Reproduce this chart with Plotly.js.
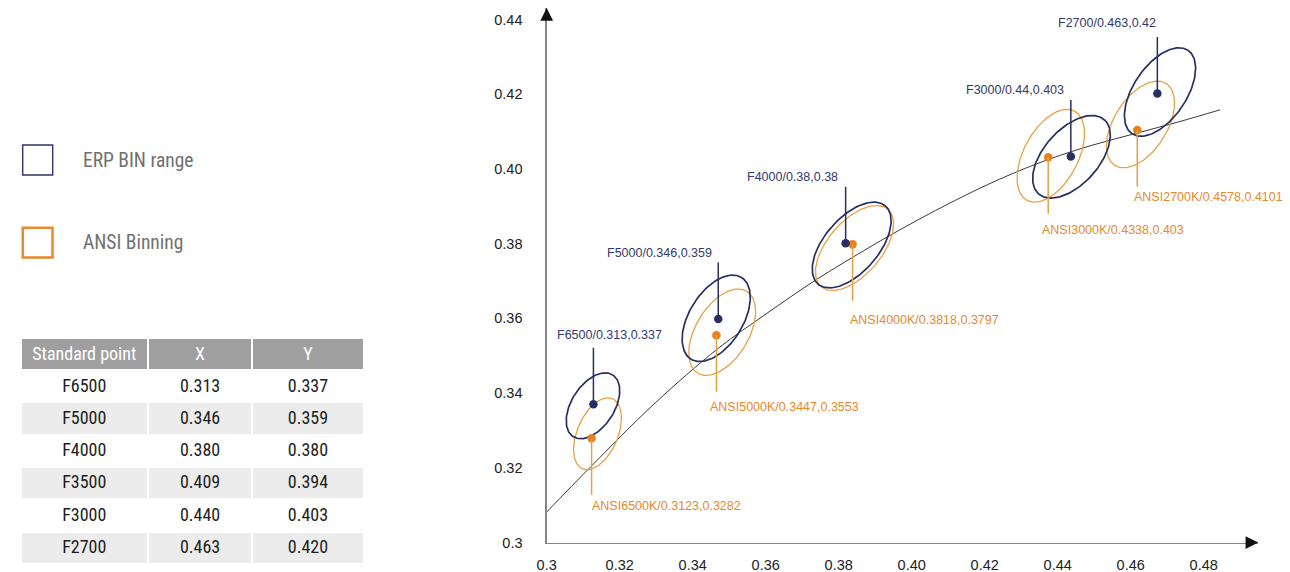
<!DOCTYPE html>
<html>
<head>
<meta charset="utf-8">
<script src="https://cdn.plot.ly/plotly-3.0.1.min.js"></script>
<style>html,body{margin:0;padding:0;background:#fff;}#chart{width:1290px;height:572px;}</style>
</head>
<body>
<div id="chart"></div>
<script>
// ---------------- DATA ----------------
// Tick labels
const xTickVals = [0.30, 0.32, 0.34, 0.36, 0.38, 0.40, 0.42, 0.44, 0.46, 0.48];
const xTickText = ['0.3', '0.32', '0.34', '0.36', '0.38', '0.40', '0.42', '0.44', '0.46', '0.48'];
const yTickVals = [0.30, 0.32, 0.34, 0.36, 0.38, 0.40, 0.42, 0.44];
const yTickText = ['0.3', '0.32', '0.34', '0.36', '0.38', '0.40', '0.42', '0.44'];

// Black-body (Planckian) locus
const locusX = [0.3000, 0.31186, 0.32940, 0.34701, 0.36008, 0.37351, 0.38419, 0.39496, 0.41049, 0.42419, 0.43742, 0.44967, 0.46181, 0.47351, 0.48447];
const locusY = [0.30816, 0.32008, 0.33707, 0.35198, 0.36116, 0.37013, 0.37655, 0.38271, 0.39087, 0.39730, 0.40252, 0.40640, 0.40961, 0.41269, 0.41582];

// ERP BIN range: labels, centre points (as drawn) and ellipses
const erpLabels = ['F6500/0.313,0.337', 'F5000/0.346,0.359', 'F4000/0.38,0.38', 'F3000/0.44,0.403', 'F2700/0.463,0.42'];
const erpDotX = [0.3128, 0.3470, 0.3819, 0.4436, 0.4673];
const erpDotY = [0.3370, 0.3598, 0.3801, 0.4033, 0.4202];
const erpEllCX = [0.31268, 0.34644, 0.38356, 0.44378, 0.46803];
const erpEllCY = [0.33659, 0.36001, 0.37963, 0.40324, 0.42058];
const erpEllA = [0.00988, 0.01294, 0.01395, 0.01340, 0.01354];
const erpEllB = [0.00582, 0.00731, 0.00734, 0.00745, 0.00720];
const erpEllAngle = [56, 57, 48, 47, 55];

// ANSI Binning: labels, centre points (as drawn) and ellipses
const ansiLabels = ['ANSI6500K/0.3123,0.3282', 'ANSI5000K/0.3447,0.3553', 'ANSI4000K/0.3818,0.3797', 'ANSI3000K/0.4338,0.403', 'ANSI2700K/0.4578,0.4101'];
const ansiDotX = [0.3123, 0.3465, 0.3838, 0.4374, 0.4618];
const ansiDotY = [0.3279, 0.3555, 0.3798, 0.4031, 0.4104];
const ansiEllCX = [0.31392, 0.34808, 0.38433, 0.43811, 0.46268];
const ansiEllCY = [0.32910, 0.35629, 0.37883, 0.40351, 0.41189];
const ansiEllA = [0.01024, 0.01286, 0.01381, 0.01359, 0.01302];
const ansiEllB = [0.00555, 0.00723, 0.00728, 0.00742, 0.00723];
const ansiEllAngle = [66, 58, 48, 61, 57];

// Standard point table
const tableHeader = ['Standard point', 'X', 'Y'];
const tableNames = ['F6500', 'F5000', 'F4000', 'F3500', 'F3000', 'F2700'];
const tableX = [0.313, 0.346, 0.380, 0.409, 0.440, 0.463];
const tableY = [0.337, 0.359, 0.380, 0.394, 0.403, 0.420];

// Legend
const legendNames = ['ERP BIN range', 'ANSI Binning'];

// ---------------- STYLE / LAYOUT ----------------
const W = 1290, H = 572;
const NAVY = '#27305f', NAVY_TXT = '#333a6b', ORANGE = '#e9a043', ORANGE_DOT = '#e5801c', ORANGE_TXT = '#e8892a';
const SANS = '"Liberation Sans", Arial, sans-serif';
const NARROW = '"Liberation Sans Narrow", "Arial Narrow", "Roboto Condensed", Roboto, sans-serif';
const px = v => v / W;
const py = v => 1 - v / H;

// plot area geometry (pixels)
const PL = 546.7, PR = 1258.3, PT = 8, PB = 542.5;
const XS = 3650, YS = 3736; // px per unit
const xMax = 0.3 + (PR - PL) / XS;
const yMax = 0.3 + (PB - PT) / YS;

// label placement (pixel offsets from the point)
const erpLabelAnchor = ['left', 'right', 'right', 'right', 'right'];
const erpLabelDx = [-38, -4, -6, -5, 1];
const erpLabelDy = [69, 66, 66, 67, 70];
const ansiLabelDx = [-2, -8, -5, -8, -5];
const ansiLabelDy = [-68, -72, -76, -73, -67];
const LEADER = 58;

function ellipse(cx, cy, a, b, angDeg) {
  const th = angDeg * Math.PI / 180, xs = [], ys = [];
  const n = 145;
  for (let i = 0; i < n; i++) {
    const t = 2 * Math.PI * i / (n - 1);
    xs.push(cx + a * Math.cos(t) * Math.cos(th) - b * Math.sin(t) * Math.sin(th));
    ys.push(cy + a * Math.cos(t) * Math.sin(th) + b * Math.sin(t) * Math.cos(th));
  }
  return {xs, ys};
}

const traces = [];
traces.push({type: 'scatter', mode: 'lines', x: locusX, y: locusY, line: {color: '#222', width: 0.9, shape: 'spline', smoothing: 1}, hoverinfo: 'skip', showlegend: false});

for (let i = 0; i < ansiEllCX.length; i++) {
  const e = ellipse(ansiEllCX[i], ansiEllCY[i], ansiEllA[i], ansiEllB[i], ansiEllAngle[i]);
  traces.push({type: 'scatter', mode: 'lines', x: e.xs, y: e.ys, line: {color: ORANGE, width: 1.3}, hoverinfo: 'skip', showlegend: false});
}
for (let i = 0; i < erpEllCX.length; i++) {
  const e = ellipse(erpEllCX[i], erpEllCY[i], erpEllA[i], erpEllB[i], erpEllAngle[i]);
  traces.push({type: 'scatter', mode: 'lines', x: e.xs, y: e.ys, line: {color: NAVY, width: 1.7}, hoverinfo: 'skip', showlegend: false});
}
traces.push({type: 'scatter', mode: 'markers', x: ansiDotX, y: ansiDotY, marker: {color: ORANGE_DOT, size: 8.5}, hoverinfo: 'skip', showlegend: false});
traces.push({type: 'scatter', mode: 'markers', x: erpDotX, y: erpDotY, marker: {color: NAVY, size: 8.5}, hoverinfo: 'skip', showlegend: false});

const rowFill = tableNames.map((_, i) => i % 2 === 0 ? '#ffffff' : '#ececec');
traces.push({
  type: 'table',
  domain: {x: [px(20.7), px(364)], y: [0, py(338)]},
  columnwidth: [126, 103.5, 110.5],
  header: {values: tableHeader, align: 'center', height: 32, fill: {color: '#9f9f9f'},
           line: {color: '#ffffff', width: 2}, font: {family: NARROW, size: 18, color: '#ffffff'}},
  cells: {values: [tableNames, tableX, tableY], format: ['', '.3f', '.3f'], align: 'center', height: 32.3,
          fill: {color: [rowFill, rowFill, rowFill]}, line: {color: '#ffffff', width: 2},
          font: {family: NARROW, size: 18, color: '#1d1d1d'}}
});

const annotations = [];
// axis arrowheads
annotations.push({xref: 'x', yref: 'y', x: 0.3, y: yMax, ax: 0, ay: 12, text: '', showarrow: true, arrowhead: 2, arrowsize: 1.7, arrowwidth: 1.5, arrowcolor: '#111'});
annotations.push({xref: 'x', yref: 'y', x: xMax, y: 0.3, ax: -12, ay: 0, text: '', showarrow: true, arrowhead: 2, arrowsize: 1.7, arrowwidth: 1.5, arrowcolor: '#111'});

for (let i = 0; i < erpDotX.length; i++) {
  annotations.push({xref: 'x', yref: 'y', x: erpDotX[i], y: erpDotY[i], ax: 0, ay: -LEADER, text: '', showarrow: true, arrowhead: 0, arrowwidth: 1.5, arrowcolor: NAVY});
  annotations.push({xref: 'x', yref: 'y', x: erpDotX[i], y: erpDotY[i], text: erpLabels[i], showarrow: false,
    xanchor: erpLabelAnchor[i], yanchor: 'middle', xshift: erpLabelDx[i], yshift: erpLabelDy[i],
    font: {family: SANS, size: 12.5, color: NAVY_TXT}});
}
for (let i = 0; i < ansiDotX.length; i++) {
  annotations.push({xref: 'x', yref: 'y', x: ansiDotX[i], y: ansiDotY[i], ax: 0, ay: LEADER, text: '', showarrow: true, arrowhead: 0, arrowwidth: 1.5, arrowcolor: ORANGE});
  annotations.push({xref: 'x', yref: 'y', x: ansiDotX[i], y: ansiDotY[i], text: ansiLabels[i], showarrow: false,
    xanchor: 'left', yanchor: 'middle', xshift: ansiLabelDx[i], yshift: ansiLabelDy[i],
    font: {family: SANS, size: 12.5, color: ORANGE_TXT}});
}
// legend texts
annotations.push({xref: 'paper', yref: 'paper', x: px(81), y: py(160), xanchor: 'left', yanchor: 'middle', text: legendNames[0], showarrow: false, font: {family: NARROW, size: 19.5, color: '#707070'}});
annotations.push({xref: 'paper', yref: 'paper', x: px(81), y: py(242), xanchor: 'left', yanchor: 'middle', text: legendNames[1], showarrow: false, font: {family: NARROW, size: 19.5, color: '#707070'}});

const shapes = [
  {type: 'rect', xref: 'paper', yref: 'paper', x0: px(22.7), x1: px(52.7), y0: py(175), y1: py(145), line: {color: '#2f3566', width: 1.4}},
  {type: 'rect', xref: 'paper', yref: 'paper', x0: px(22.8), x1: px(52.5), y0: py(257.5), y1: py(227.8), line: {color: '#e8892a', width: 2.5}}
];

const layout = {
  width: W, height: H,
  margin: {l: 0, r: 0, t: 0, b: 0},
  paper_bgcolor: '#ffffff', plot_bgcolor: '#ffffff',
  showlegend: false, hovermode: false,
  xaxis: {domain: [px(PL), px(PR)], range: [0.3, xMax], showgrid: false, zeroline: false,
          showline: true, linecolor: '#858585', linewidth: 1.3, ticks: '', tickvals: xTickVals, ticktext: xTickText,
          tickfont: {family: SANS, size: 14.5, color: '#222'}, ticklabelstandoff: 9, automargin: false, fixedrange: true},
  yaxis: {domain: [1 - PB / H, 1 - PT / H], range: [0.3, yMax], showgrid: false, zeroline: false,
          showline: true, linecolor: '#858585', linewidth: 1.3, ticks: '', tickvals: yTickVals, ticktext: yTickText,
          tickfont: {family: SANS, size: 14.5, color: '#222'}, ticklabelstandoff: 20, automargin: false, fixedrange: true},
  annotations: annotations,
  shapes: shapes
};

Plotly.newPlot('chart', traces, layout, {displayModeBar: false, staticPlot: true});
</script>
</body>
</html>
